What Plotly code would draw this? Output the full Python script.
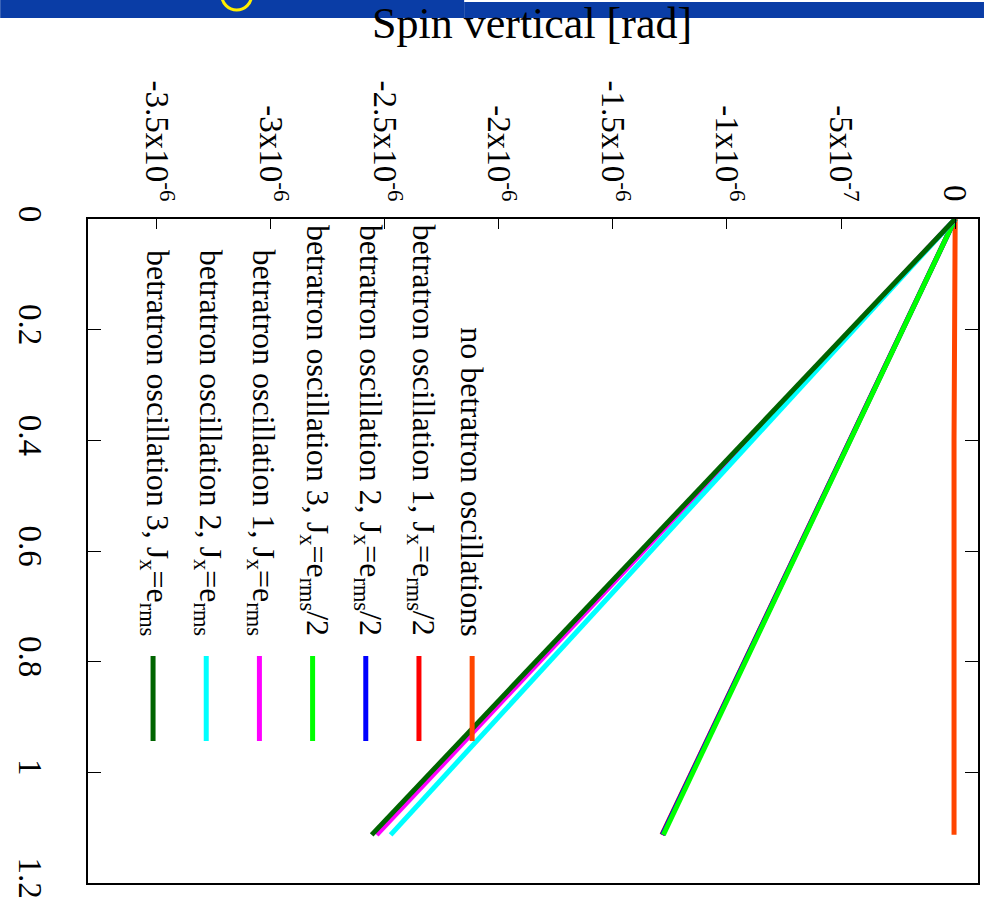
import plotly.graph_objects as go

# ---- data ----
turn = [0.0, 0.2, 0.4, 0.6, 0.8, 1.0, 1.113]

spin_no_betatron = [0.0, -5e-9, -5e-9, -5e-9, -5e-9, -5e-9, -5e-9]
spin_osc1_half = [0.0, -2.31e-7, -4.62e-7, -6.93e-7, -9.24e-7, -1.155e-6, -1.285e-6]
spin_osc2_half = [0.0, -2.31e-7, -4.61e-7, -6.92e-7, -9.22e-7, -1.153e-6, -1.283e-6]
spin_osc3_half = [0.0, -2.30e-7, -4.60e-7, -6.89e-7, -9.19e-7, -1.149e-6, -1.279e-6]
spin_osc1_full = [0.0, -4.56e-7, -9.11e-7, -1.367e-6, -1.822e-6, -2.278e-6, -2.535e-6]
spin_osc2_full = [0.0, -4.45e-7, -8.89e-7, -1.334e-6, -1.778e-6, -2.223e-6, -2.474e-6]
spin_osc3_full = [0.0, -4.59e-7, -9.19e-7, -1.378e-6, -1.838e-6, -2.297e-6, -2.557e-6]

series_names = [
    "no betratron oscillations",
    "betratron oscillation 1, J<sub>x</sub>=e<sub>rms</sub>/2",
    "betratron oscillation 2, J<sub>x</sub>=e<sub>rms</sub>/2",
    "betratron oscillation 3, J<sub>x</sub>=e<sub>rms</sub>/2",
    "betratron oscillation 1, J<sub>x</sub>=e<sub>rms</sub>",
    "betratron oscillation 2, J<sub>x</sub>=e<sub>rms</sub>",
    "betratron oscillation 3, J<sub>x</sub>=e<sub>rms</sub>",
]
series_values = [spin_no_betatron, spin_osc1_half, spin_osc2_half, spin_osc3_half,
                 spin_osc1_full, spin_osc2_full, spin_osc3_full]
series_colors = ["#ff4500", "#ff0000", "#0000ff", "#00ff00", "#ff00ff", "#00ffff", "#006400"]

spin_tickvals = [0, -5e-7, -1e-6, -1.5e-6, -2e-6, -2.5e-6, -3e-6, -3.5e-6]
spin_ticktext = ["0", "-5x10<sup>-7</sup>", "-1x10<sup>-6</sup>", "-1.5x10<sup>-6</sup>",
                 "-2x10<sup>-6</sup>", "-2.5x10<sup>-6</sup>", "-3x10<sup>-6</sup>",
                 "-3.5x10<sup>-6</sup>"]
turn_tickvals = [0, 0.2, 0.4, 0.6, 0.8, 1.0, 1.2]
turn_ticktext = ["0", "0.2", "0.4", "0.6", "0.8", "1", "1.2"]

title_text = "Spin vertical [rad]"

# ---- layout geometry (pixels) ----
W, H = 986, 913
L, R, T, B = 88, 980, 219, 883
FONT = "Liberation Serif, Times New Roman, serif"


def px(xp):
    return (xp - L) / (R - L)


def py(yp):
    return (B - yp) / (B - T)


fig = go.Figure()
for name, vals, col in zip(series_names, series_values, series_colors):
    fig.add_trace(go.Scatter(x=vals, y=turn, mode="lines", name=name,
                             line=dict(color=col, width=5), showlegend=False,
                             hoverinfo="skip"))

shapes = []
annotations = []

# legend (rotated)
for i, (name, col) in enumerate(zip(series_names, series_colors)):
    cx = 473 - i * 53.3
    shapes.append(dict(type="line", xref="paper", yref="paper",
                       x0=px(cx), x1=px(cx), y0=py(656), y1=py(741),
                       line=dict(color=col, width=5)))
    annotations.append(dict(text=name, xref="paper", yref="paper",
                            x=px(cx + (3 if i > 0 else 0)), y=py(638),
                            xanchor="center", yanchor="bottom", textangle=90,
                            showarrow=False,
                            font=dict(family=FONT, size=32, color="black")))

# top banner decoration
shapes.append(dict(type="rect", xref="paper", yref="paper",
                   x0=px(0), x1=px(465), y0=py(0), y1=py(18),
                   fillcolor="#0a3da6", line=dict(width=0), layer="below"))
shapes.append(dict(type="rect", xref="paper", yref="paper",
                   x0=px(465), x1=px(986), y0=py(2), y1=py(18),
                   fillcolor="#0a3da6", line=dict(width=0), layer="below"))
shapes.append(dict(type="circle", xref="paper", yref="paper",
                   x0=px(222), x1=px(252), y0=py(-20), y1=py(10),
                   line=dict(color="#ffee00", width=3), layer="below"))

annotations.append(dict(text=title_text, xref="paper", yref="paper",
                        x=px(533), y=py(24), xanchor="center", yanchor="middle",
                        showarrow=False,
                        font=dict(family=FONT, size=44, color="black")))

fig.update_layout(
    width=W, height=H, autosize=False,
    margin=dict(l=L, r=W - R, t=T, b=H - B, pad=0),
    paper_bgcolor="white", plot_bgcolor="white",
    shapes=shapes, annotations=annotations,
    showlegend=False,
    xaxis=dict(side="top", range=[-3.8e-6, 1e-7], tickmode="array",
               tickvals=spin_tickvals, ticktext=spin_ticktext, tickangle=90,
               ticks="inside", ticklen=10, tickwidth=1, tickcolor="black",
               showline=True, linecolor="black", linewidth=2, mirror=True,
               showgrid=False, zeroline=False, ticklabelstandoff=4,
               tickfont=dict(family=FONT, size=33, color="black")),
    yaxis=dict(range=[1.2, 0], tickmode="array", tickvals=turn_tickvals,
               ticktext=turn_ticktext, tickangle=90,
               ticks="inside", ticklen=13, tickwidth=1, tickcolor="black",
               showline=True, linecolor="black", linewidth=2, mirror="allticks",
               showgrid=False, zeroline=False, ticklabelstandoff=27,
               tickfont=dict(family=FONT, size=33, color="black")),
)

fig.write_html("out.html")
